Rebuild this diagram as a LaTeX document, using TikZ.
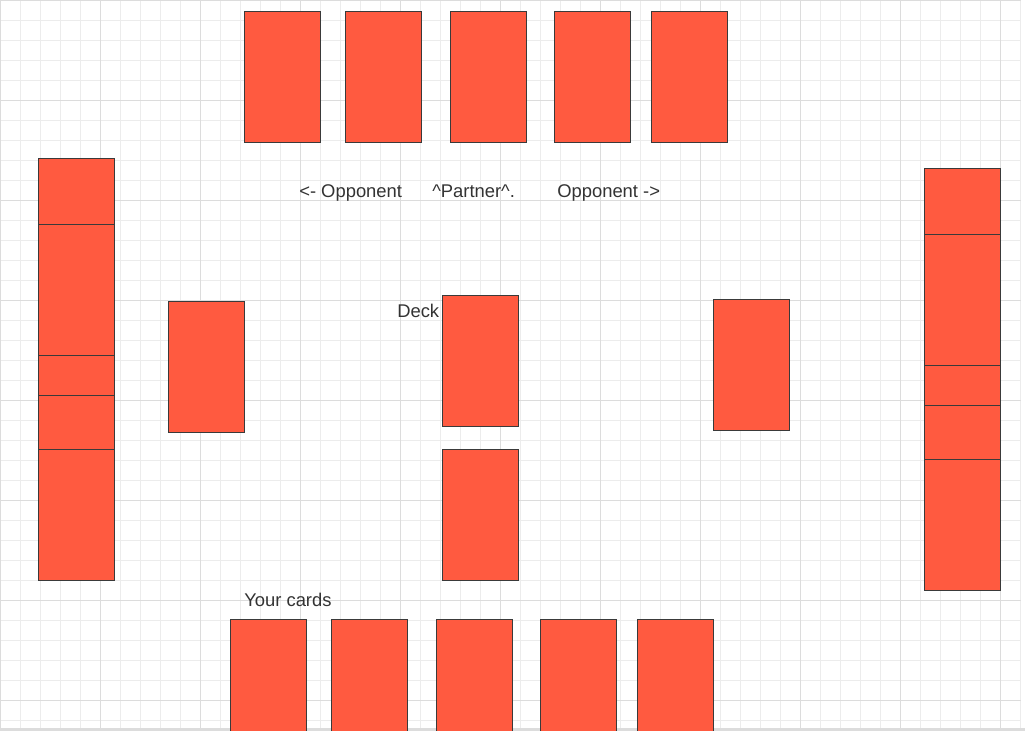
\documentclass[tikz,border=0pt]{standalone}
\usepackage{fontspec}
\setmainfont{Liberation Sans}
\definecolor{cardfill}{RGB}{255,90,64}
\definecolor{cardline}{RGB}{58,58,58}
\definecolor{txt}{RGB}{51,51,51}
\definecolor{gridminor}{RGB}{236,236,236}
\definecolor{gridmajor}{RGB}{220,220,220}
\begin{document}
\begin{tikzpicture}[x=0.75pt,y=-0.75pt,
  card/.style={draw=cardline,fill=cardfill,line width=0.75pt,minimum width=57pt,minimum height=98.25pt,inner sep=0pt,outer sep=0pt,rectangle},
  label/.style={text=txt,font=\fontsize{13.8pt}{16pt}\selectfont,inner sep=0pt,anchor=base west}]
\useasboundingbox (0,0) rectangle (1025,731);
\clip (0,0) rectangle (1025,731);
\fill[white] (0,0) rectangle (1025,731);
% grid
\foreach \x in {0,20,...,1020} \draw[gridminor,line width=0.75pt] (\x+0.5,0) -- (\x+0.5,728);
\foreach \y in {0,20,...,720} \draw[gridminor,line width=0.75pt] (0,\y+0.5) -- (1021,\y+0.5);
\foreach \x in {0,100,...,1000} \draw[gridmajor,line width=0.75pt] (\x+0.5,0) -- (\x+0.5,728);
\foreach \y in {0,100,...,700} \draw[gridmajor,line width=0.75pt] (0,\y+0.5) -- (1021,\y+0.5);
\fill[gridmajor] (0,728) rectangle (1025,731);
% top row
\node[card] (t1) at (282.5,77) {};
\node[card] (t2) at (383.5,77) {};
\node[card] (t3) at (488.5,77) {};
\node[card] (t4) at (592.5,77) {};
\node[card] (t5) at (689.5,77) {};
% left column (overlapping)
\node[card] (l1) at (76.5,223.8) {};
\node[card] (l2) at (76.5,289.8) {};
\node[card] (l3) at (76.5,420.8) {};
\node[card] (l4) at (76.5,460.8) {};
\node[card] (l5) at (76.5,514.8) {};
% right column (overlapping)
\node[card] (r1) at (962.5,233.8) {};
\node[card] (r2) at (962.5,299.8) {};
\node[card] (r3) at (962.5,430.8) {};
\node[card] (r4) at (962.5,470.8) {};
\node[card] (r5) at (962.5,524.8) {};
% middle
\node[card] (ml) at (206.5,366.8) {};
\node[card] (deck) at (480.5,360.8) {};
\node[card] (mr) at (751.5,364.8) {};
\node[card] (mb) at (480.5,514.8) {};
% bottom row
\node[card] (b1) at (268.5,684.8) {};
\node[card] (b2) at (369.5,684.8) {};
\node[card] (b3) at (474.5,684.8) {};
\node[card] (b4) at (578.5,684.8) {};
\node[card] (b5) at (675.5,684.8) {};
% labels
\node[label] (lo) at (299,197.5) {<- Opponent};
\node[label] (pa) at (432,197.5) {\^{}Partner\^{}.};
\node[label] (ro) at (557,197.5) {Opponent ->};
\node[label] (dk) at (397,317) {Deck};
\node[label] (yc) at (244,606) {Your cards};
\end{tikzpicture}
\end{document}
